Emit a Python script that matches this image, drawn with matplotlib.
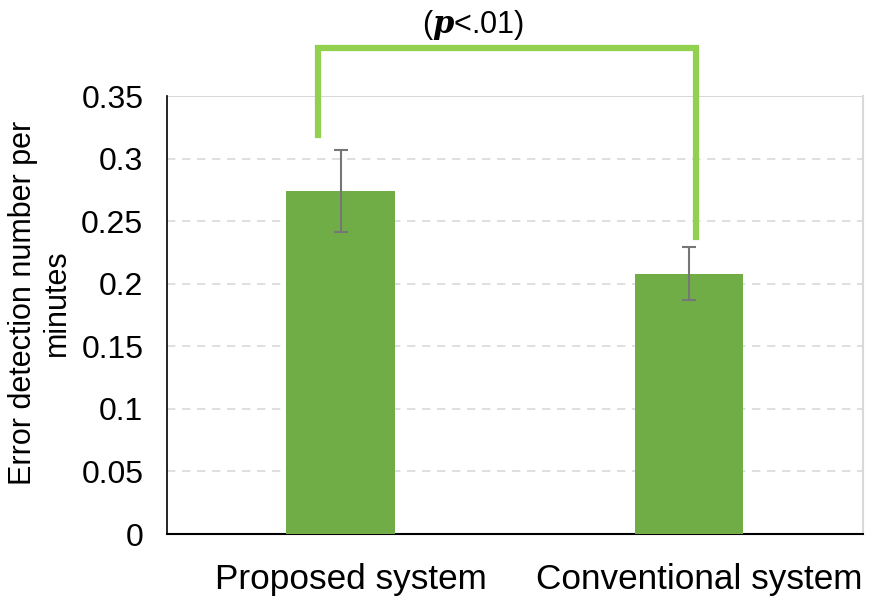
import matplotlib
matplotlib.use("Agg")
import matplotlib.pyplot as plt
import matplotlib.transforms as mtransforms

plt.rcParams['font.family'] = ['Liberation Sans', 'DejaVu Sans']

categories = ["Proposed system", "Conventional system"]
means = [0.274, 0.208]
errors = [0.033, 0.021]
yticks = [0, 0.05, 0.1, 0.15, 0.2, 0.25, 0.3, 0.35]
ytick_labels = ["0", "0.05", "0.1", "0.15", "0.2", "0.25", "0.3", "0.35"]

fig = plt.figure(figsize=(8.74, 6), dpi=100)
ax = fig.add_axes([0.191, 0.11, 0.7964, 0.73])

x = range(len(categories))
ax.bar(x, means, width=0.313, color="#70AD47", zorder=3,
       yerr=errors, error_kw=dict(ecolor="#767676", elinewidth=1.5, capsize=5, capthick=1.5))

ax.set_xlim(-0.5, 1.5)
ax.set_ylim(0, 0.35)
ax.set_yticks(yticks)
ax.set_yticklabels(ytick_labels)
ax.set_xticks(list(x))
ax.set_xticklabels(categories, fontsize=25.3)
ax.tick_params(axis="y", length=0, pad=17, labelsize=23)
ax.tick_params(axis="x", length=0, pad=21)
shift = mtransforms.ScaledTranslation(10 / 100, 0, fig.dpi_scale_trans)
for lab in ax.get_xticklabels():
    lab.set_transform(lab.get_transform() + shift)

# gridlines: dashed, top one solid
for t in yticks[1:-1]:
    ax.axhline(t, color="#D9D9D9", lw=1.2, ls=(0, (5, 4)), zorder=1)
ax.axhline(0.35, color="#D9D9D9", lw=1.5, zorder=1)

ax.spines["top"].set_visible(False)
ax.spines["right"].set_color("#D9D9D9")
ax.spines["right"].set_linewidth(1.5)
ax.spines["left"].set_color("black")
ax.spines["bottom"].set_color("black")
ax.spines["left"].set_linewidth(1.2)
ax.spines["bottom"].set_linewidth(1.5)

ax.set_ylabel("Error detection number per\nminutes", fontsize=22, linespacing=1.15)
ax.yaxis.set_label_coords(-0.1365, 0.527)

# significance bracket
bx = [-0.066, -0.066, 1.02, 1.02]
by = [0.319, 0.3885, 0.3885, 0.2374]
ax.plot(bx, by, color="#92D050", lw=4.5, clip_on=False, zorder=4, solid_joinstyle="miter")
ax.text(0.379, 0.407, r"($\boldsymbol{p}$<.01)", ha="center", va="center", fontsize=22,
        math_fontfamily="dejavuserif")

fig.savefig("out.png", dpi=100)
